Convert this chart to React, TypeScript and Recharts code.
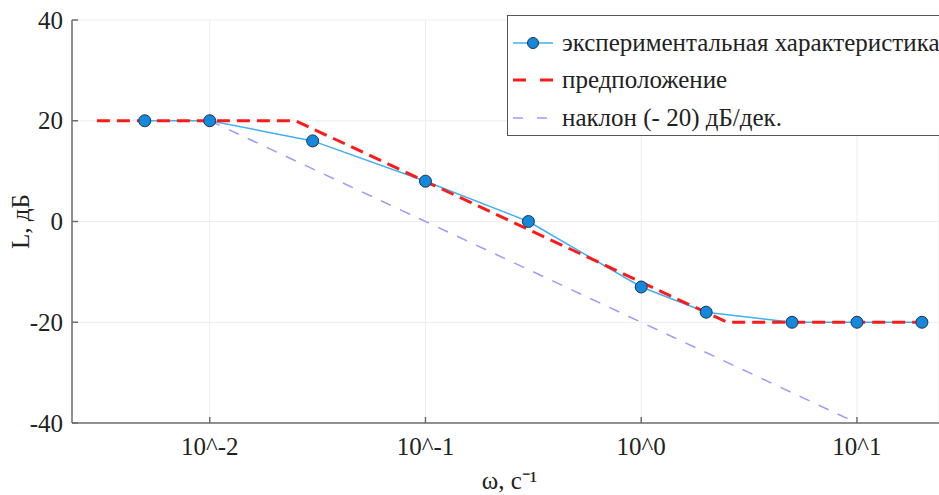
import { CartesianGrid, Line, LineChart, XAxis, YAxis } from "recharts";

// experimental curve
const omegaExp = [0.005, 0.01, 0.03, 0.1, 0.3, 1, 2, 5, 10, 20];
const lExp = [20, 20, 16, 8, 0, -13, -18, -20, -20, -20];

// assumed asymptotic curve
const omegaGuess = [0.003, 0.025, 2.5, 20];
const lGuess = [20, 20, -20, -20];

// -20 dB/dec reference slope
const omegaSlope = [0.01, 10];
const lSlope = [20, -40];

const xTicks = [0.01, 0.1, 1, 10];
const xTickLabels = ["10^-2", "10^-1", "10^0", "10^1"];
const yTicks = [-40, -20, 0, 20, 40];

const expData = omegaExp.map((w, i) => ({ w, L: lExp[i] }));
const guessData = omegaGuess.map((w, i) => ({ w, L: lGuess[i] }));
const slopeData = omegaSlope.map((w, i) => ({ w, L: lSlope[i] }));

const FONT = "'Liberation Serif', 'Times New Roman', serif";
const FS = 25;
const AXIS = "#6e6e6e";

function XTick(props: any) {
  const { x, y, payload } = props;
  const i = xTicks.indexOf(payload.value);
  const axisY = y - 14;
  return (
    <g>
      <line x1={x} x2={x} y1={axisY} y2={axisY - 6} stroke={AXIS} strokeWidth={1.5} />
      <text x={x} y={y} dy={18} textAnchor="middle" fontSize={FS} fontFamily={FONT} fill="#222">
        {i >= 0 ? xTickLabels[i] : payload.value}
      </text>
    </g>
  );
}

function YTick(props: any) {
  const { x, y, payload } = props;
  const axisX = x + 9;
  return (
    <g>
      <line x1={axisX} x2={axisX + 6} y1={y} y2={y} stroke={AXIS} strokeWidth={1.5} />
      <text x={x} y={y} dy={8.5} textAnchor="end" fontSize={FS} fontFamily={FONT} fill="#222">
        {payload.value}
      </text>
    </g>
  );
}

function YLabel(props: any) {
  const { viewBox } = props;
  const cy = viewBox.y + viewBox.height / 2;
  return (
    <text x={20} y={cy} transform={`rotate(-90, 20, ${cy})`} textAnchor="middle" dominantBaseline="central" fontSize={FS} fontFamily={FONT} fill="#222">
      L, дБ
    </text>
  );
}

function XLabel(props: any) {
  const { viewBox } = props;
  const cx = viewBox.x + viewBox.width / 2 + 4;
  return (
    <text x={cx} y={489} textAnchor="middle" fontSize={FS} fontFamily={FONT} fill="#222">
      ω, с⁻¹
    </text>
  );
}

function LegendBox() {
  const rows = [
    { label: "экспериментальная характеристика", kind: "exp" },
    { label: "предположение", kind: "guess" },
    { label: "наклон (- 20) дБ/дек.", kind: "slope" },
  ];
  return (
    <div
      style={{
        position: "absolute",
        left: 507,
        top: 15,
        width: 460,
        height: 121,
        border: "1.5px solid #555",
        background: "#fff",
        paddingTop: 8,
        boxSizing: "border-box",
        fontFamily: FONT,
        fontSize: FS,
        color: "#222",
      }}
    >
      {rows.map((r) => (
        <div key={r.kind} style={{ display: "flex", alignItems: "center", height: 37.5, whiteSpace: "nowrap" }}>
          <svg width={52} height={20} style={{ flex: "none" }}>
            {r.kind === "exp" && (
              <>
                <line x1={5} x2={45} y1={10} y2={10} stroke="#3fb0f2" strokeWidth={1.5} />
                <circle cx={25} cy={10} r={5.5} fill="#1488dc" stroke="#1c3550" strokeWidth={1} />
              </>
            )}
            {r.kind === "guess" && (
              <line x1={5} x2={45} y1={10} y2={10} stroke="#ff1a1a" strokeWidth={3} strokeDasharray="13 14" />
            )}
            {r.kind === "slope" && (
              <line x1={5} x2={45} y1={10} y2={10} stroke="#9b9bff" strokeWidth={1.5} strokeDasharray="10 14" />
            )}
          </svg>
          <span style={{ marginLeft: 2 }}>{r.label}</span>
        </div>
      ))}
    </div>
  );
}

export default function App() {
  return (
    <div style={{ position: "absolute", left: 0, top: 0, width: 939, height: 495, overflow: "hidden", background: "#fff" }}>
      <LineChart width={939} height={495} margin={{ top: 20, right: 0, bottom: 0, left: 0 }}>
        <CartesianGrid stroke="#ececec" strokeWidth={1} />
        <XAxis
          dataKey="w"
          type="number"
          scale="log"
          domain={[0.0023, 24]}
          allowDataOverflow
          ticks={xTicks}
          height={72}
          tickLine={false}
          tickSize={0}
          tickMargin={14}
          tick={<XTick />}
          stroke={AXIS}
          strokeWidth={1.5}
          label={<XLabel />}
        />
        <YAxis
          type="number"
          domain={[-40, 40]}
          ticks={yTicks}
          width={72}
          tickLine={false}
          tickSize={0}
          tickMargin={9}
          tick={<YTick />}
          stroke={AXIS}
          strokeWidth={1.5}
          label={<YLabel />}
        />
        <Line
          data={slopeData}
          dataKey="L"
          type="linear"
          stroke="#9b9bff"
          strokeWidth={1.5}
          strokeDasharray="11 10"
          dot={false}
          isAnimationActive={false}
        />
        <Line
          data={expData}
          dataKey="L"
          type="linear"
          stroke="#3fb0f2"
          strokeWidth={1.5}
          dot={{ r: 6, fill: "#1488dc", stroke: "#1c3550", strokeWidth: 1 }}
          isAnimationActive={false}
        />
        <Line
          data={guessData}
          dataKey="L"
          type="linear"
          stroke="#ff1a1a"
          strokeWidth={3}
          strokeDasharray="13 7"
          dot={false}
          isAnimationActive={false}
        />
      </LineChart>
      <LegendBox />
    </div>
  );
}
